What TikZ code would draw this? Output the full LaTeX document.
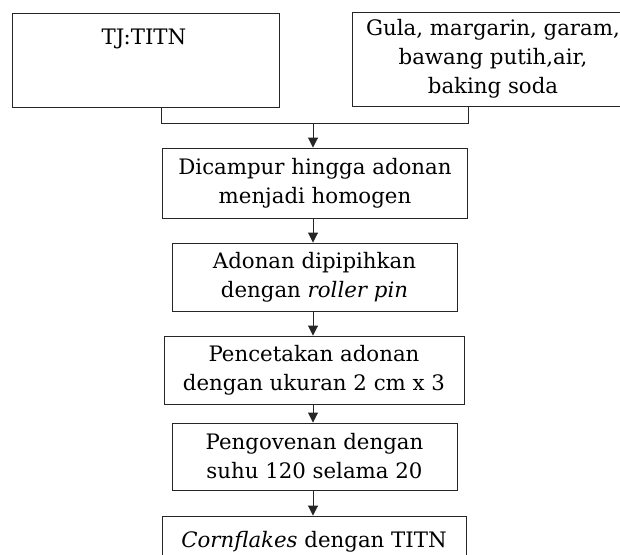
\documentclass[tikz,border=0pt]{standalone}
\usepackage{fontspec}
\setmainfont{DejaVu Serif}
\usetikzlibrary{arrows.meta}
\tikzset{
  box/.style={draw=black!85, line width=0.9pt, inner sep=0pt, align=center,
    font=\fontsize{21.3}{29}\selectfont},
  txt/.style={inner sep=0pt, align=center, font=\fontsize{21.3}{29}\selectfont},
  conn/.style={draw=black!85, line width=0.9pt},
  arr/.style={conn, -{Triangle[width=10pt,length=10pt]}}
}
\begin{document}
\begin{tikzpicture}[x=1pt,y=-1pt]
\useasboundingbox (0,0) rectangle (620,554);
\begin{scope}
\clip (0,0) rectangle (620,554);
\node[box, minimum width=267pt, minimum height=94pt] (tj) at (145.5,60) {};
\node[txt] (tjt) at (144,39) {TJ:TITN};
\node[box, minimum width=282pt, minimum height=94pt] (gula) at (493,59)
  {Gula, margarin, garam,\\bawang putih,air,\\baking soda};
\node[box, minimum width=305pt, minimum height=70pt] (b2) at (315,183)
  {Dicampur hingga adonan\\menjadi homogen};
\node[box, minimum width=285pt, minimum height=68pt] (b3) at (314.5,277)
  {Adonan dipipihkan\\dengan \textit{roller pin}};
\node[box, minimum width=300pt, minimum height=68pt] (b4) at (314,370)
  {Pencetakan adonan\\dengan ukuran 2 cm x 3};
\node[box, minimum width=285pt, minimum height=67pt] (b5) at (314.5,456.5)
  {Pengovenan dengan\\suhu 120 selama 20};
\node[box, minimum width=304pt, minimum height=52pt] (b6) at (314,542)
  {\textit{Cornflakes} dengan TITN};
\coordinate (jl) at (161,123);
\coordinate (jr) at (468,123);
\coordinate (jm) at (313,123);
\draw[conn] (tj.south -| jl) -- (jl) -- (jr) -- (gula.south -| jr);
\draw[arr] (jm) -- (b2.north -| jm);
\draw[arr] (b2.south -| jm) -- (b3.north -| jm);
\draw[arr] (b3.south -| jm) -- (b4.north -| jm);
\draw[arr] (b4.south -| jm) -- (b5.north -| jm);
\draw[arr] (b5.south -| jm) -- (b6.north -| jm);
\end{scope}
\end{tikzpicture}
\end{document}
